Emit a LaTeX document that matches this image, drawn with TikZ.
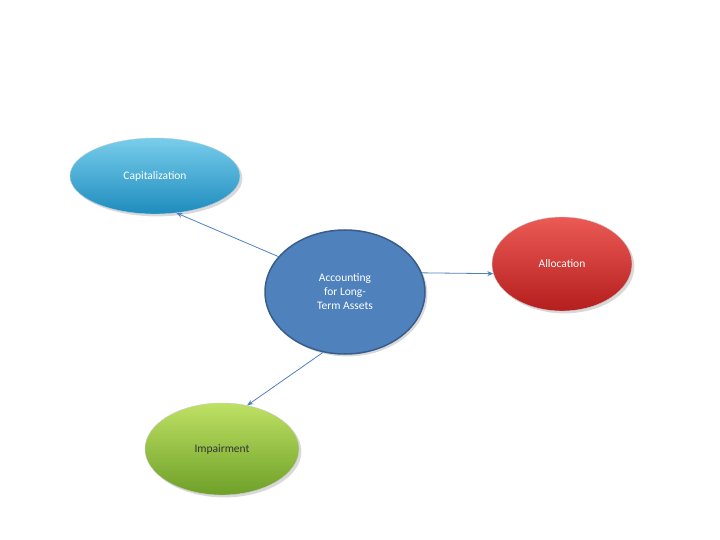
\documentclass[tikz,border=0pt]{standalone}
\usepackage{fontspec}
\setmainfont{Carlito}
\usetikzlibrary{shapes.geometric,arrows.meta,shadows}
\definecolor{cblue}{RGB}{79,129,189}
\definecolor{cdark}{RGB}{56,93,138}
\definecolor{redt}{RGB}{235,90,85}
\definecolor{redb}{RGB}{180,30,30}
\definecolor{grt}{RGB}{190,225,100}
\definecolor{grb}{RGB}{110,160,40}
\definecolor{cyt}{RGB}{120,205,235}
\definecolor{cyb}{RGB}{30,140,190}
\begin{document}
\begin{tikzpicture}[x=1pt,y=-1pt,
 blob/.style={ellipse,minimum width=#1,inner sep=0pt,font=\fontsize{11.5}{14}\selectfont,drop shadow={opacity=0.3}},
 conn/.style={draw=cblue,line width=0.8pt,-{Stealth[length=6pt,width=5pt]}}]
\useasboundingbox (0,0) rectangle (720,540);
\node[blob=170pt,minimum height=76pt,top color=cyt,bottom color=cyb,draw=cyb!60!gray!40,text=white] (cap) at (155,176) {Capitalization};
\node[blob=160pt,minimum height=124pt,fill=cblue,draw=cdark,line width=1.5pt,align=center,text=white] (c) at (345,292) {Accounting\\for Long-\\Term Assets};
\node[blob=140pt,minimum height=94pt,top color=redt,bottom color=redb,draw=gray!40,text=white] (al) at (562,264) {Allocation};
\node[blob=154pt,minimum height=92pt,top color=grt,bottom color=grb,draw=gray!40,text=black!80] (im) at (222,449) {Impairment};
\draw[conn] (c.152) -- (cap.300);
\draw[conn] (c.14) -- (al.188);
\draw[conn] (c.250) -- (im.60);
\end{tikzpicture}
\end{document}
